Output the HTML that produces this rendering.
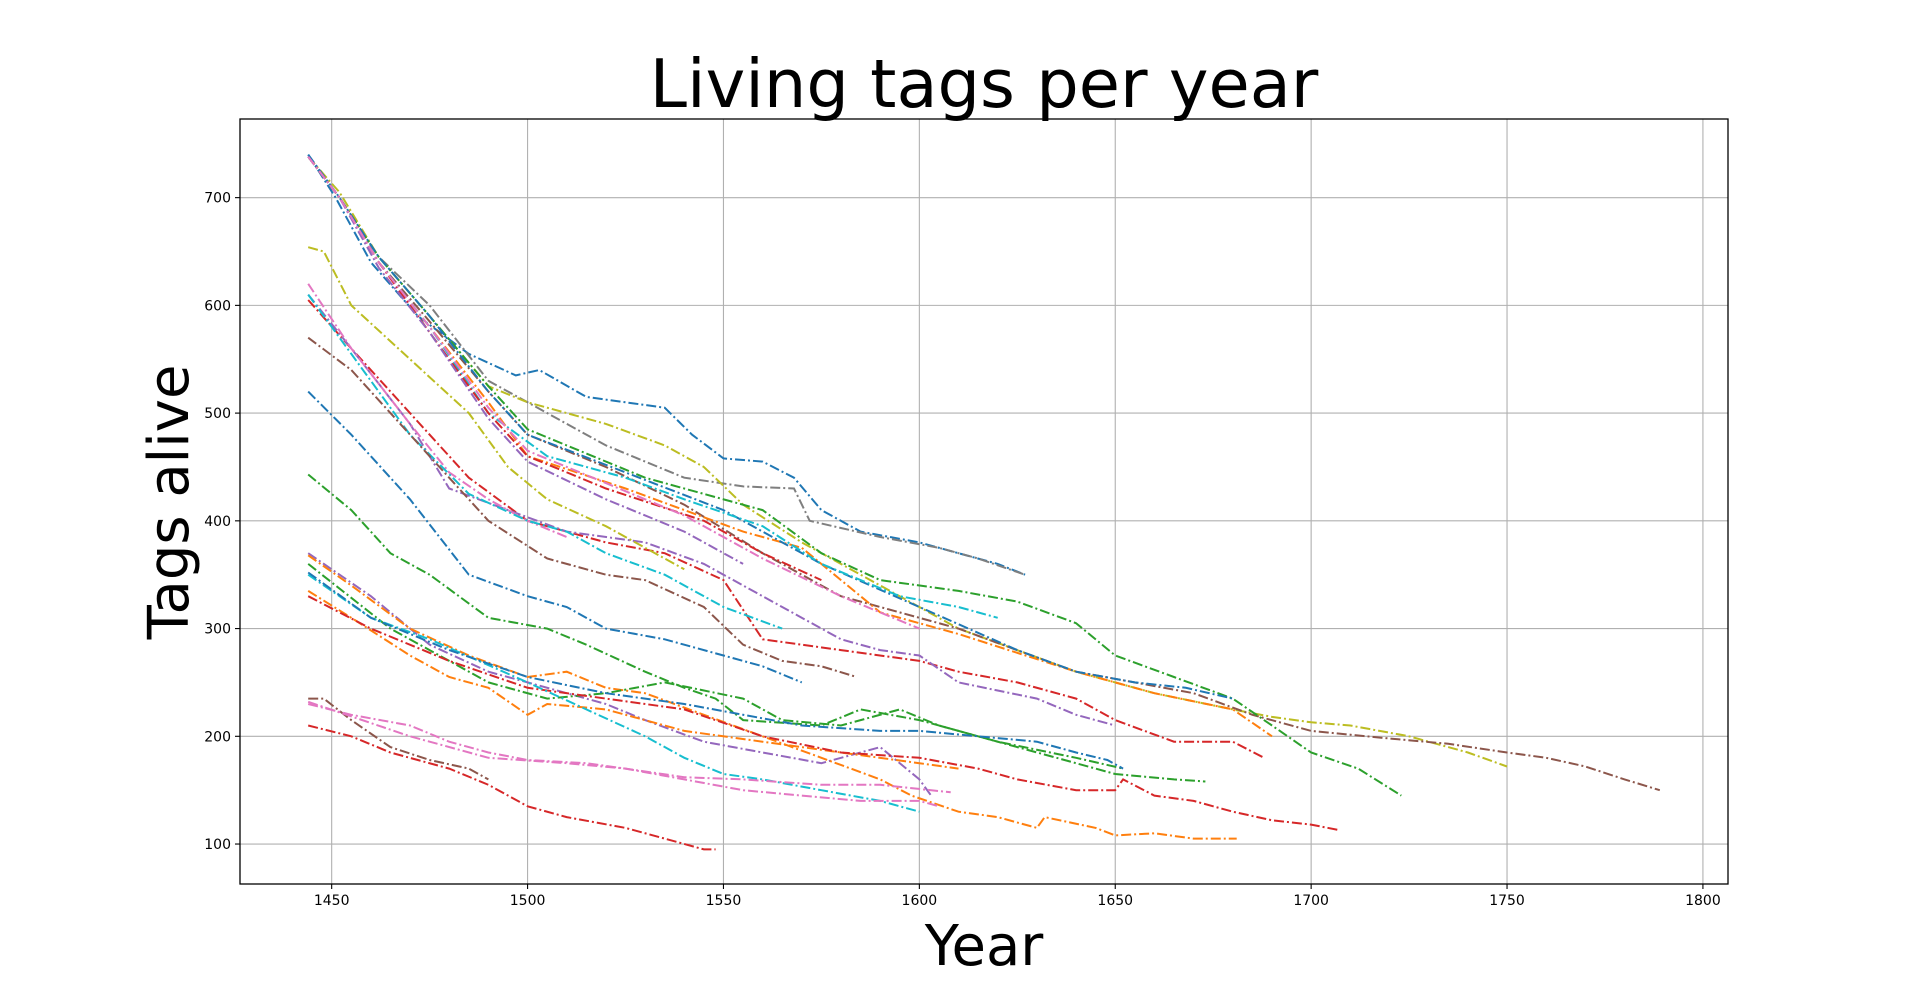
<!DOCTYPE html>
<html><head><meta charset="utf-8">
<style>
html,body{margin:0;padding:0;background:#fff;}
svg{display:block;font-family:"DejaVu Sans","Liberation Sans",sans-serif;}
</style></head>
<body>
<svg id="chart" width="1920" height="993" viewBox="0 0 1920 993" xmlns="http://www.w3.org/2000/svg">
<text x="984" y="107" font-size="67" text-anchor="middle" fill="#000">Living tags per year</text>
<text x="984" y="965" font-size="56" text-anchor="middle" fill="#000">Year</text>
<text transform="translate(188,502) rotate(-90)" font-size="56" text-anchor="middle" fill="#000">Tags alive</text>
<g id="grid"></g>
<g id="series"></g>
<rect x="240" y="119" width="1488" height="765" fill="none" stroke="#000" stroke-width="1.3"/>
<g id="ticks"></g>
</svg>
<script>
const xTicks = [1450,1500,1550,1600,1650,1700,1750,1800];
const yTicks = [100,200,300,400,500,600,700];
const seriesYears = [
 [1444,1451,1460,1472,1485,1497,1503,1515,1525,1535,1542,1550,1560,1568,1575,1585,1600,1610,1620,1627],
 [1444,1452,1462,1475,1490,1500,1520,1540,1555,1568,1572,1590,1605,1615,1627],
 [1444,1452,1462,1475,1490,1500,1520,1535,1545,1555,1570,1590,1610,1640,1660,1680,1690,1700,1710,1725,1740,1750],
 [1444,1452,1462,1475,1490,1500,1520,1540,1560,1580,1610,1640,1670,1685,1700,1720,1735,1750,1760,1770,1780,1789],
 [1444,1452,1462,1475,1490,1500,1530,1560,1575,1590,1610,1625,1640,1650,1665,1680,1690,1700,1712,1723],
 [1444,1452,1462,1475,1490,1500,1525,1555,1570,1580,1590,1610,1640,1660,1680,1690],
 [1444,1452,1462,1475,1490,1500,1525,1550,1575,1600,1625,1640,1655,1668,1680],
 [1444,1452,1462,1475,1490,1505,1525,1540,1560,1575,1595,1610,1620],
 [1444,1452,1462,1475,1490,1500,1520,1545,1560,1575],
 [1444,1452,1462,1475,1490,1500,1520,1540,1555],
 [1444,1452,1462,1475,1490,1500,1520,1540,1560,1580,1600],
 [1444,1455,1470,1485,1500,1520,1535,1550,1560,1580,1600,1610,1625,1640,1650,1665,1680,1688],
 [1444,1455,1470,1480,1495,1510,1530,1545,1565,1580,1590,1600,1610,1630,1640,1650],
 [1444,1455,1470,1480,1490,1500,1510],
 [1444,1455,1470,1485,1500,1510,1520,1535,1550,1565],
 [1444,1455,1475,1490,1505,1520,1530,1545,1555,1565,1575,1584],
 [1444,1448,1455,1470,1485,1495,1505,1520,1530,1540],
 [1444,1455,1470,1485,1500,1510,1520,1535,1550,1560,1570],
 [1444,1455,1465,1475,1490,1505,1515,1530,1540,1548,1555,1575,1585,1600,1620,1640,1652],
 [1444,1460,1475,1490,1500,1520,1530,1545,1560,1575,1590,1600,1603],
 [1444,1455,1470,1485,1500,1510,1520,1530,1545,1560,1575,1590,1598,1610,1620,1630,1632,1645,1650,1660,1670,1681],
 [1444,1455,1470,1480,1490,1500,1505,1520,1540,1560,1580,1600,1610],
 [1444,1465,1475,1490,1505,1520,1535,1555,1565,1580,1595,1605,1615,1625,1635,1650,1665,1673],
 [1444,1460,1480,1500,1520,1540,1560,1580,1600,1615,1625,1640,1650,1652,1660,1670,1680,1690,1700,1707],
 [1444,1460,1475,1500,1515,1530,1540,1550,1560,1575,1590,1600],
 [1444,1460,1480,1500,1520,1540,1570,1590,1600,1615,1630,1640,1648,1652],
 [1444,1455,1465,1480,1490,1500,1510,1525,1535,1545,1548],
 [1444,1448,1455,1465,1475,1485,1490],
 [1444,1455,1470,1480,1490,1500,1515,1525,1540,1555,1570,1585,1600,1605],
 [1444,1470,1490,1510,1525,1540,1555,1575,1590,1608]
];
const seriesTags = [
 [740,700,640,590,555,535,540,515,510,505,480,458,455,440,410,390,380,370,360,350],
 [738,700,645,600,530,510,470,440,432,430,400,385,375,365,350],
 [738,705,645,590,525,510,490,470,450,415,380,340,300,260,240,225,218,213,210,200,185,172],
 [738,700,640,585,520,480,450,415,370,330,300,260,240,220,205,198,193,185,180,172,160,150],
 [738,700,645,590,525,485,440,410,370,345,335,325,305,275,255,235,210,185,170,145],
 [738,700,640,580,510,460,430,390,375,345,315,295,260,240,225,200],
 [740,700,645,590,520,480,445,410,360,320,280,260,250,245,235],
 [738,700,640,580,500,460,440,420,395,360,330,320,310],
 [738,700,640,575,500,460,430,400,370,345],
 [738,700,635,575,495,455,420,390,360],
 [738,700,640,580,505,465,435,405,365,330,300],
 [605,560,500,440,400,380,370,345,290,280,270,260,250,235,215,195,195,180],
 [610,560,490,430,410,390,380,360,320,290,280,275,250,235,220,210],
 [620,560,490,445,420,400,385],
 [610,555,480,425,400,390,370,350,320,300],
 [570,540,460,400,365,350,345,320,285,270,265,255],
 [654,650,600,550,500,450,420,395,375,355],
 [520,480,420,350,330,320,300,290,275,265,250],
 [443,410,370,350,310,300,285,260,245,235,215,210,225,215,195,180,170],
 [370,330,285,260,250,230,215,195,185,175,190,160,145],
 [368,340,300,275,255,260,245,240,220,200,180,160,145,130,125,115,125,115,108,110,105,105],
 [335,310,275,255,245,220,230,225,205,195,185,175,170],
 [360,300,280,250,235,240,250,235,215,210,225,210,200,190,180,165,160,158],
 [330,300,270,245,235,225,200,185,180,170,160,150,150,160,145,140,130,122,118,113],
 [350,310,290,250,225,200,180,165,160,150,140,130],
 [352,310,280,255,240,230,210,205,205,200,195,185,178,170],
 [210,200,185,170,155,135,125,115,105,95,95],
 [235,235,215,190,178,170,160],
 [230,220,210,195,185,178,175,170,160,150,145,140,140,135],
 [232,200,180,175,170,162,160,155,155,148]
];
const seriesColors = ['#1f77b4','#7f7f7f','#bcbd22','#8c564b','#2ca02c','#ff7f0e','#1f77b4','#17becf','#d62728','#9467bd','#e377c2','#d62728','#9467bd','#e377c2','#17becf','#8c564b','#bcbd22','#1f77b4','#2ca02c','#9467bd','#ff7f0e','#ff7f0e','#2ca02c','#d62728','#17becf','#1f77b4','#d62728','#8c564b','#e377c2','#e377c2'];

const NS = 'http://www.w3.org/2000/svg';
const L=240,T=119,R=1728,B=884;
const X0=1426.6,X1=1806.4,Y0=62.9,Y1=773;
function xs(v){return L+(v-X0)/(X1-X0)*(R-L);}
function ys(v){return B-(v-Y0)/(Y1-Y0)*(B-T);}
const grid=document.getElementById('grid'), ticks=document.getElementById('ticks'), sg=document.getElementById('series');
xTicks.forEach(t=>{
  const x=xs(t);
  const g=document.createElementNS(NS,'line');
  
  
  g.setAttribute('x1',x);g.setAttribute('x2',x);g.setAttribute('y1',T);g.setAttribute('y2',B);
  g.setAttribute('stroke','#b0b0b0');g.setAttribute('stroke-width','1.1');grid.appendChild(g);
  const tk=document.createElementNS(NS,'line');
  
  
  tk.setAttribute('x1',x);tk.setAttribute('x2',x);tk.setAttribute('y1',B);tk.setAttribute('y2',B+5);
  tk.setAttribute('stroke','#000');tk.setAttribute('stroke-width','1.1');ticks.appendChild(tk);
  const tx=document.createElementNS(NS,'text');
  
  
  tx.setAttribute('x',x);tx.setAttribute('y',B+21);tx.setAttribute('font-size','14');tx.setAttribute('text-anchor','middle');
  tx.textContent=t;ticks.appendChild(tx);
});
yTicks.forEach(t=>{
  const y=ys(t);
  const g=document.createElementNS(NS,'line');
  
  
  g.setAttribute('x1',L);g.setAttribute('x2',R);g.setAttribute('y1',y);g.setAttribute('y2',y);
  g.setAttribute('stroke','#b0b0b0');g.setAttribute('stroke-width','1.1');grid.appendChild(g);
  const tk=document.createElementNS(NS,'line');
  
  
  tk.setAttribute('x1',L-5);tk.setAttribute('x2',L);tk.setAttribute('y1',y);tk.setAttribute('y2',y);
  tk.setAttribute('stroke','#000');tk.setAttribute('stroke-width','1.1');ticks.appendChild(tk);
  const tx=document.createElementNS(NS,'text');
  
  
  tx.setAttribute('x',L-9);tx.setAttribute('y',y+5);tx.setAttribute('font-size','14');tx.setAttribute('text-anchor','end');
  tx.textContent=t;ticks.appendChild(tx);
});
seriesYears.forEach((yrs,i)=>{
  const vals=seriesTags[i];
  const pts=yrs.map((yr,j)=>xs(yr).toFixed(1)+','+ys(vals[j]).toFixed(1)).join(' ');
  const p=document.createElementNS(NS,'polyline');
  
  
  p.setAttribute('points',pts);
  p.setAttribute('fill','none');
  p.setAttribute('stroke',seriesColors[i%seriesColors.length]);
  p.setAttribute('stroke-width','2');
  p.setAttribute('stroke-dasharray','10,3,2,3');
  sg.appendChild(p);
});
</script>
</body></html>
